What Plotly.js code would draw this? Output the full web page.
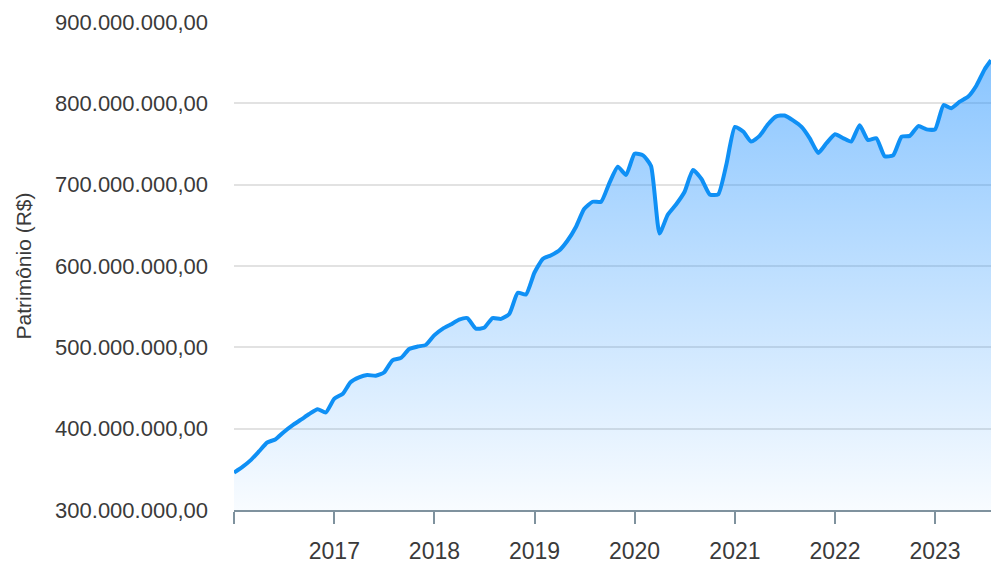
<!DOCTYPE html>
<html>
<head>
<meta charset="utf-8">
<script src="https://cdn.plot.ly/plotly-3.0.1.min.js"></script>
<style>html,body{margin:0;padding:0;background:#fff;}#chart{width:991px;height:566px;}</style>
</head>
<body>
<div id="chart"></div>
<script>
// Monthly observations starting January 2016; last point is the latest reading (late July 2023)
const startYear = 2016;
const lastDate = "2023-07-24";
// Patrimônio in millions of R$
const patrimonioMi = [
  346, 353, 361, 372, 383, 387, 396, 404, 411, 418, 424, 420,
  437, 443, 457, 463, 466, 465, 469, 484, 487, 498, 501, 503,
  515, 523, 528, 534, 536, 523, 524, 536, 535, 541, 567, 565,
  592, 609, 613, 619, 631, 648, 670, 679, 679, 702, 722, 712,
  738, 736, 723, 640, 663, 676, 691, 718, 707, 688, 688, 725,
  771, 765, 753, 760, 774, 784, 785, 779, 771, 757, 739, 751,
  762, 757, 753, 773, 755, 757, 735, 736, 759, 760, 772, 768,
  768, 798, 794, 802, 808, 822, 842, 853
];
const tickYears = ["2016", "2017", "2018", "2019", "2020", "2021", "2022", "2023"];
const tickLabels = ["", "2017", "2018", "2019", "2020", "2021", "2022", "2023"];

const dates = patrimonioMi.map((v, i) => {
  if (i === patrimonioMi.length - 1) return lastDate;
  const y = startYear + Math.floor(i / 12);
  const m = (i % 12) + 1;
  return y + "-" + String(m).padStart(2, "0") + "-01";
});
const values = patrimonioMi.map(v => v * 1e6);

const trace = {
  x: dates,
  y: values,
  type: "scatter",
  mode: "lines",
  line: {color: "#0f90f5", width: 4, shape: "spline", smoothing: 0.5},
  fill: "tozeroy",
  fillgradient: {
    type: "vertical",
    start: 300e6,
    stop: 900e6,
    colorscale: [[0, "rgba(30,144,255,0.03)"], [1, "rgba(30,144,255,0.56)"]]
  },
  hoverinfo: "skip"
};

const layout = {
  width: 991, height: 566,
  margin: {l: 234, r: 0, t: 22, b: 56},
  paper_bgcolor: "#fff", plot_bgcolor: "#fff",
  separators: ",.",
  showlegend: false,
  hovermode: false,
  xaxis: {
    type: "date",
    range: [dates[0], lastDate],
    tickvals: tickYears.map(y => y + "-01-01"),
    ticktext: tickLabels,
    showgrid: false,
    zeroline: false,
    showline: true, linecolor: "#7f929e", linewidth: 2,
    ticks: "outside", ticklen: 12, tickwidth: 2, tickcolor: "#7f929e",
    tickfont: {family: "Liberation Sans, Arial, sans-serif", size: 23, color: "#3a3a3a"},
    ticklabelstandoff: 7
  },
  yaxis: {
    range: [300e6, 900e6],
    tickvals: [300e6, 400e6, 500e6, 600e6, 700e6, 800e6, 900e6],
    tickformat: ",.2f",
    showgrid: true, gridcolor: "#e2e2e2", gridwidth: 2,
    zeroline: false, showline: false,
    ticks: "",
    tickfont: {family: "Liberation Sans, Arial, sans-serif", size: 22, color: "#3a3a3a"},
    ticklabelstandoff: 25,
    title: {text: "Patrimônio (R$)", font: {family: "Liberation Sans, Arial, sans-serif", size: 21, color: "#3a3a3a"}, standoff: 17}
  }
};

Plotly.newPlot("chart", [trace], layout, {staticPlot: true, displayModeBar: false});
</script>
</body>
</html>
